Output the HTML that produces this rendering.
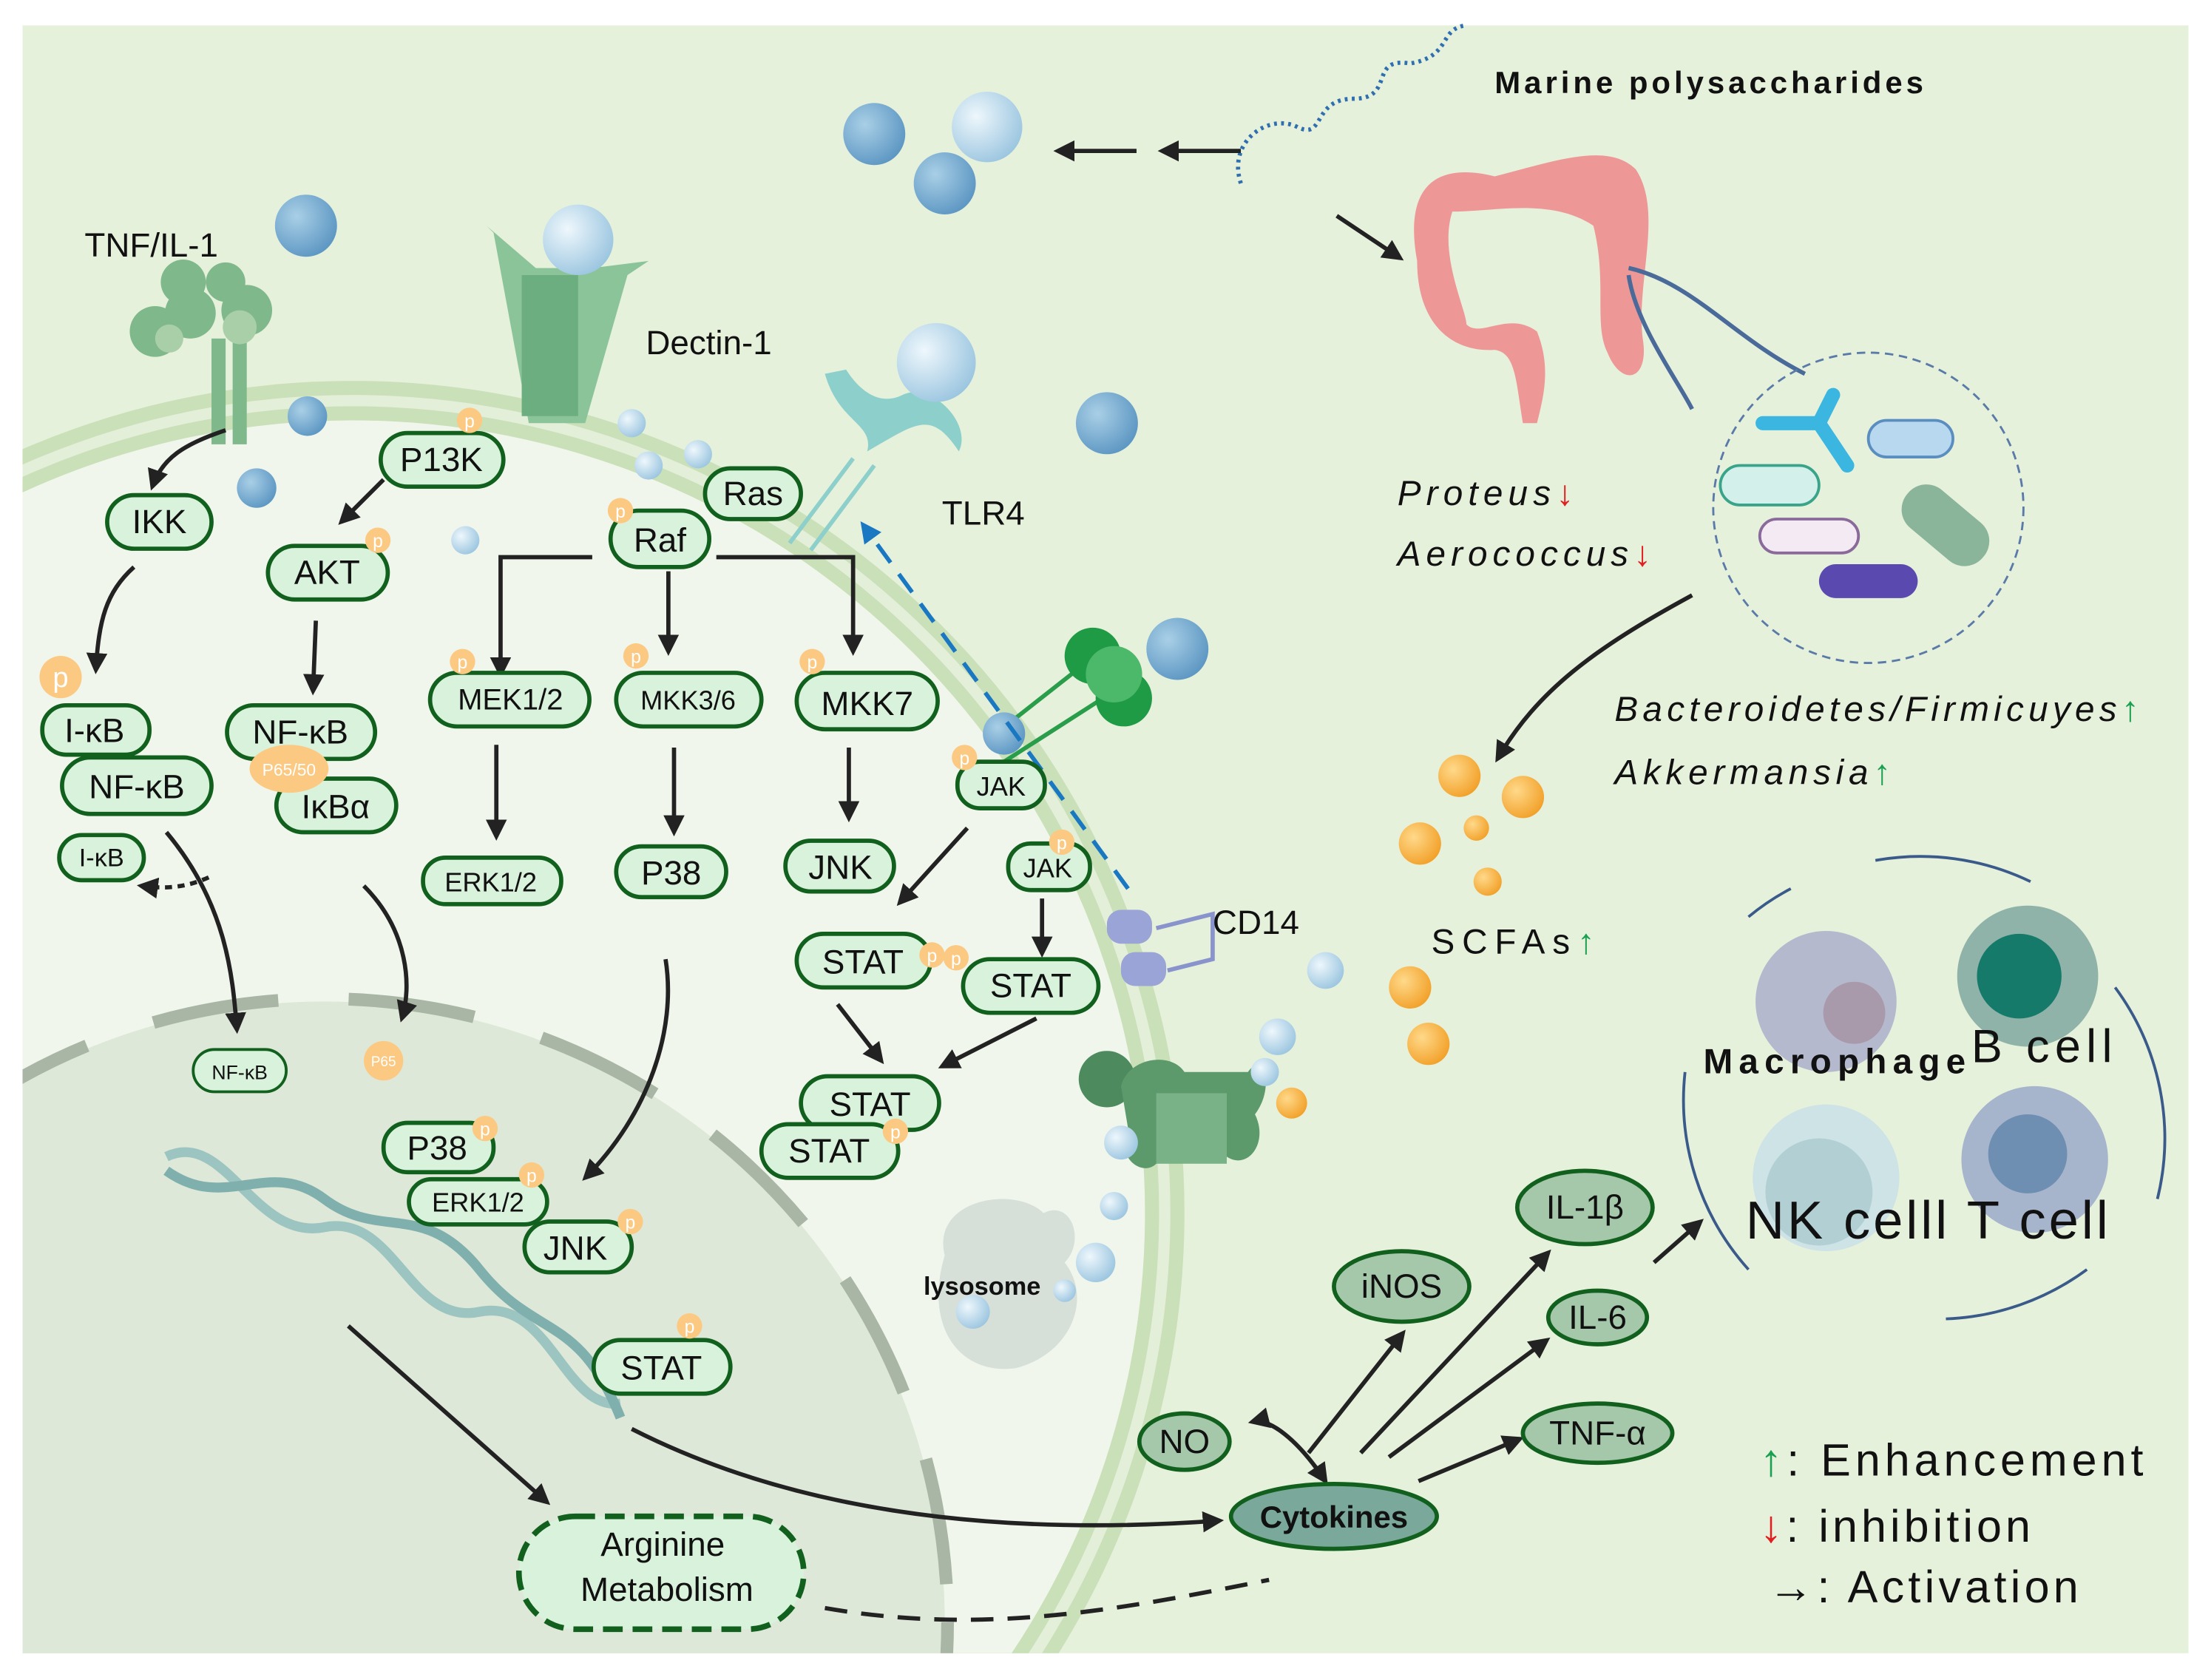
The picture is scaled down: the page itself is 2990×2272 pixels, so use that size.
<!DOCTYPE html>
<html><head><meta charset="utf-8"><style>
html,body{margin:0;padding:0;background:#fff;width:2990px;height:2272px;overflow:hidden}
svg{display:block}
text{font-family:"Liberation Sans",sans-serif}
</style></head><body>
<svg width="2990" height="2272" viewBox="0 0 1568 1191" preserveAspectRatio="none" xmlns="http://www.w3.org/2000/svg">
<defs>
<marker id="a" viewBox="0 0 10 10" refX="8" refY="5" markerWidth="5" markerHeight="5" orient="auto-start-reverse"><path d="M0,0L10,5L0,10Z" fill="#222"/></marker>
<marker id="b" viewBox="0 0 10 10" refX="8" refY="5" markerWidth="5" markerHeight="5" orient="auto"><path d="M0,0L10,5L0,10Z" fill="#1a78c2"/></marker>
<clipPath id="pc"><rect x="16" y="18" width="1536" height="1154"/></clipPath>
<radialGradient id="bs" cx="0.35" cy="0.35" r="0.7"><stop offset="0" stop-color="#a9cfe6"/><stop offset="1" stop-color="#5d97c3"/></radialGradient>
<radialGradient id="ls" cx="0.35" cy="0.35" r="0.7"><stop offset="0" stop-color="#eef7fc"/><stop offset="1" stop-color="#9cc6e0"/></radialGradient>
<radialGradient id="os" cx="0.35" cy="0.35" r="0.7"><stop offset="0" stop-color="#ffd98a"/><stop offset="1" stop-color="#f2a12a"/></radialGradient>
</defs>
<rect x="16" y="18" width="1536" height="1154" fill="#e6f1dc"/>
<g clip-path="url(#pc)">
<circle cx="250" cy="860" r="590" fill="#c9e0b8"/>
<circle cx="250" cy="860" r="580" fill="#e4efd9"/>
<circle cx="250" cy="860" r="572" fill="#c9e0b8"/>
<circle cx="250" cy="860" r="562" fill="#f0f6ec"/>
<circle cx="230" cy="1150" r="440" fill="#dee8d8"/>
<circle cx="230" cy="1150" r="442" fill="none" stroke="#a9b5a5" stroke-width="9" stroke-dasharray="90,50"/>
</g>
<path d="M118,820 C160,800 180,880 230,870 C280,860 290,940 340,930 C390,920 400,1000 440,995" fill="none" stroke="#9cc4c0" stroke-width="7"/>
<path d="M118,830 C160,860 190,820 230,850 C270,880 300,850 340,900 C380,950 410,930 440,1005" fill="none" stroke="#7fb0ad" stroke-width="7"/>
<g fill="#7fb88a">
<rect x="150" y="240" width="10" height="75"/><rect x="165" y="240" width="10" height="75"/>
<circle cx="110" cy="235" r="18"/><circle cx="135" cy="222" r="18"/><circle cx="175" cy="220" r="18"/><circle cx="130" cy="200" r="16"/><circle cx="160" cy="200" r="14"/>
</g>
<circle cx="120" cy="240" r="10" fill="#a9cfa8"/><circle cx="170" cy="232" r="12" fill="#a9cfa8"/>
<path d="M350,165 L375,300 L415,300 L445,195 L460,185 L420,190 L380,190 L345,160Z" fill="#8cc49a"/>
<rect x="370" y="195" width="40" height="100" fill="#6cae80"/>
<circle cx="410" cy="170" r="25" fill="url(#ls)"/>
<path d="M585,265 C595,300 620,300 615,320 C650,300 660,290 680,320 C690,300 660,270 640,280 C620,290 605,270 600,262Z" fill="#8ccfcb"/>
<path d="M560,385 L605,325 M575,390 L620,330" stroke="#8ccfcb" stroke-width="3"/>
<circle cx="664" cy="257" r="28" fill="url(#ls)"/>
<circle cx="785" cy="765" r="20" fill="#4d8a5e"/>
<path d="M795,770 C800,750 830,745 840,760 L885,760 C895,745 905,770 890,790 C900,810 885,830 870,820 L820,825 C810,835 790,820 800,800Z" fill="#5c9a6c"/>
<rect x="820" y="775" width="50" height="50" fill="#7ab287"/>
<g fill="#9aa4d6"><rect x="785" y="645" width="32" height="24" rx="10"/><rect x="795" y="675" width="32" height="24" rx="10"/></g>
<path d="M820,658 L860,648 L860,680 L828,688" fill="none" stroke="#8a94cc" stroke-width="3"/>
<path d="M700,525 L770,470 M712,540 L790,490" stroke="#2a9d4a" stroke-width="3"/>
<circle cx="775" cy="465" r="20" fill="#1f9a45"/><circle cx="797" cy="495" r="20" fill="#1f9a45"/><circle cx="790" cy="478" r="20" fill="#4cb86a"/>
<circle cx="712" cy="520" r="15" fill="url(#bs)"/>
<path d="M670,890 C660,850 720,840 740,860 C760,850 770,880 755,895 C775,920 760,960 720,970 C680,975 655,940 670,890Z" fill="#d6dfd8"/>
<circle cx="690" cy="930" r="12" fill="url(#ls)"/>
<g fill="url(#bs)">
<circle cx="217" cy="160" r="22"/><circle cx="218" cy="295" r="14"/><circle cx="182" cy="346" r="14"/><circle cx="620" cy="95" r="22"/><circle cx="670" cy="130" r="22"/><circle cx="785" cy="300" r="22"/><circle cx="835" cy="460" r="22"/>
</g>
<g fill="url(#ls)">
<circle cx="700" cy="90" r="25"/><circle cx="448" cy="300" r="10"/><circle cx="460" cy="330" r="10"/><circle cx="495" cy="322" r="10"/><circle cx="330" cy="383" r="10"/><circle cx="940" cy="688" r="13"/><circle cx="906" cy="735" r="13"/><circle cx="897" cy="760" r="10"/><circle cx="795" cy="810" r="12"/><circle cx="790" cy="855" r="10"/><circle cx="777" cy="895" r="14"/><circle cx="755" cy="915" r="8"/>
</g>
<g fill="url(#os)">
<circle cx="1035" cy="550" r="15"/><circle cx="1080" cy="565" r="15"/><circle cx="1047" cy="587" r="9"/><circle cx="1007" cy="598" r="15"/><circle cx="1055" cy="625" r="10"/><circle cx="1000" cy="700" r="15"/><circle cx="1013" cy="740" r="15"/><circle cx="916" cy="782" r="11"/>
</g>
<path d="M880,130 C870,100 900,80 920,90 C940,100 930,70 960,70 C990,70 970,40 1000,45 C1030,40 1020,20 1040,18" fill="none" stroke="#2f6fb0" stroke-width="3" stroke-dasharray="2,3"/>
<path d="M1005,185 C995,130 1020,115 1060,125 C1100,115 1140,100 1160,120 C1180,150 1160,200 1165,240 C1170,270 1150,275 1140,250 C1130,230 1140,200 1130,160 C1100,140 1060,150 1030,150 C1020,180 1040,220 1040,230 C1050,240 1070,220 1090,235 C1100,260 1095,280 1090,300 L1080,300 C1075,270 1075,250 1060,248 C1030,250 1005,230 1005,185Z" fill="#ee9797"/>
<path d="M1155,190 C1200,200 1230,240 1280,265 M1155,195 C1160,230 1190,270 1200,290" fill="none" stroke="#4a6a9a" stroke-width="3"/>
<circle cx="1325" cy="360" r="110" fill="none" stroke="#5a7aa8" stroke-width="1.5" stroke-dasharray="6,4"/>
<path d="M1250,300 L1290,300 L1300,280 M1290,300 L1310,330" stroke="#3ab6e0" stroke-width="10" fill="none" stroke-linecap="round"/>
<rect x="1220" y="330" width="70" height="28" rx="14" fill="#d4f0ea" stroke="#3aa48a" stroke-width="2"/>
<rect x="1325" y="298" width="60" height="26" rx="13" fill="#b8d8ef" stroke="#5a8ec0" stroke-width="2"/>
<rect x="1248" y="368" width="70" height="24" rx="12" fill="#f4eaf4" stroke="#8a6a9a" stroke-width="2"/>
<rect x="1345" y="355" width="70" height="35" rx="17" fill="#8ab59a" transform="rotate(40 1380 372)"/>
<rect x="1290" y="400" width="70" height="24" rx="12" fill="#5a4ab0"/>
<path d="M1240,650 A170,170 0 0 1 1270,630 M1330,610 A180,180 0 0 1 1440,625 M1500,700 A180,180 0 0 1 1530,850 M1480,900 A180,180 0 0 1 1380,935 M1240,900 A180,180 0 0 1 1195,760" fill="none" stroke="#3a5a8a" stroke-width="2"/>
<circle cx="1295" cy="710" r="50" fill="#b5b9cd"/><circle cx="1315" cy="718" r="22" fill="#a89aaa"/>
<circle cx="1438" cy="692" r="50" fill="#8fb3a8"/><circle cx="1432" cy="692" r="30" fill="#157a6a"/>
<circle cx="1295" cy="835" r="52" fill="#cde3e6"/><circle cx="1290" cy="845" r="38" fill="#b2d0d3"/>
<circle cx="1443" cy="822" r="52" fill="#a6b5cc"/><circle cx="1438" cy="818" r="28" fill="#6f8fb2"/>
<g stroke="#222" stroke-width="3" fill="none" marker-end="url(#a)">
<path d="M806,107L750,107"/><path d="M880,107L824,107"/><path d="M948,153L993,183"/>
<path d="M1200,422 C1130,460 1090,490 1062,538"/>
<path d="M160,305 C130,315 115,325 108,345"/>
<path d="M95,402 C75,420 70,440 68,475"/>
<path d="M272,340L242,370"/><path d="M224,440L222,490"/>
<path d="M420,395L355,395L355,478"/><path d="M474,405L474,462"/><path d="M508,395L605,395L605,462"/>
<path d="M352,528L352,593"/><path d="M478,530L478,590"/><path d="M602,530L602,580"/>
<path d="M686,587L638,640"/><path d="M739,637L739,676"/>
<path d="M594,712L625,752"/><path d="M735,722L668,756"/>
<path d="M118,590 C160,640 165,690 168,730"/>
<path d="M258,628 C290,660 292,700 285,722"/>
<path d="M472,680 C480,730 460,790 415,835"/>
<path d="M247,940L388,1065"/>
<path d="M448,1013 C560,1070 700,1090 865,1078"/>
<path d="M928,1030L995,945"/><path d="M965,1030L1098,888"/><path d="M985,1033L1097,950"/><path d="M1006,1050L1078,1020"/><path d="M1173,895L1206,866"/>
<path d="M940,1050 C920,1020 900,1005 888,1008" marker-start="url(#a)"/>
</g>
<path d="M148,622 C130,630 115,630 100,628" stroke="#222" stroke-width="3" fill="none" stroke-dasharray="5,4" marker-end="url(#a)"/>
<path d="M585,1140 C700,1160 800,1140 900,1120" stroke="#222" stroke-width="3" fill="none" stroke-dasharray="16,10"/>
<path d="M800,630 L612,372" stroke="#1a78c2" stroke-width="3" fill="none" stroke-dasharray="16,10" marker-end="url(#b)"/>
<g fill="#d9f2dc" stroke="#12601e" stroke-width="3">
<rect x="270" y="307" width="87" height="38" rx="19"/>
<rect x="76" y="351" width="74" height="38" rx="19"/>
<rect x="190" y="387" width="85" height="38" rx="19"/>
<rect x="500" y="332" width="68" height="36" rx="18"/>
<rect x="433" y="362" width="70" height="40" rx="20"/>
<rect x="305" y="477" width="113" height="38" rx="19"/>
<rect x="437" y="477" width="103" height="38" rx="19"/>
<rect x="565" y="477" width="100" height="40" rx="20"/>
<rect x="300" y="608" width="98" height="33" rx="16"/>
<rect x="437" y="600" width="78" height="36" rx="18"/>
<rect x="557" y="596" width="77" height="36" rx="18"/>
<rect x="679" y="540" width="62" height="33" rx="16"/>
<rect x="715" y="598" width="58" height="33" rx="16"/>
<rect x="565" y="662" width="95" height="38" rx="19"/>
<rect x="683" y="680" width="96" height="38" rx="19"/>
<rect x="568" y="763" width="98" height="38" rx="19"/>
<rect x="540" y="797" width="97" height="38" rx="19"/>
<rect x="30" y="500" width="76" height="35" rx="17"/>
<rect x="44" y="537" width="106" height="40" rx="20"/>
<rect x="42" y="592" width="60" height="32" rx="16"/>
<rect x="161" y="500" width="105" height="38" rx="19"/>
<rect x="196" y="552" width="85" height="38" rx="19"/>
<rect x="137" y="744" width="66" height="30" rx="15" stroke-width="2"/>
<rect x="272" y="796" width="78" height="35" rx="17"/>
<rect x="290" y="836" width="98" height="32" rx="16"/>
<rect x="372" y="866" width="76" height="36" rx="18"/>
<rect x="421" y="950" width="97" height="38" rx="19"/>
</g>
<rect x="368" y="1075" width="202" height="80" rx="40" fill="#d9f2dc" stroke="#12601e" stroke-width="4" stroke-dasharray="14,7"/>
<g stroke="#12601e" stroke-width="3">
<ellipse cx="946" cy="1075" rx="73" ry="23" fill="#7aa89a"/>
<ellipse cx="840" cy="1022" rx="32" ry="20" fill="#a5c8aa"/>
<ellipse cx="994" cy="912" rx="48" ry="25" fill="#a5c8aa"/>
<ellipse cx="1124" cy="856" rx="48" ry="26" fill="#a5c8aa"/>
<ellipse cx="1133" cy="934" rx="35" ry="19" fill="#a5c8aa"/>
<ellipse cx="1133" cy="1016" rx="53" ry="21" fill="#a5c8aa"/>
</g>
<g fill="#fcc983">
<circle cx="333" cy="298" r="9"/><circle cx="268" cy="383" r="9"/><circle cx="440" cy="362" r="9"/><circle cx="328" cy="469" r="9"/><circle cx="451" cy="465" r="9"/><circle cx="576" cy="469" r="9"/><circle cx="684" cy="537" r="9"/><circle cx="753" cy="597" r="9"/><circle cx="661" cy="677" r="9"/><circle cx="678" cy="679" r="9"/><circle cx="635" cy="802" r="9"/><circle cx="43" cy="480" r="15"/><circle cx="344" cy="800" r="9"/><circle cx="377" cy="833" r="9"/><circle cx="447" cy="866" r="9"/><circle cx="489" cy="940" r="9"/><circle cx="272" cy="752" r="14"/>
<ellipse cx="205" cy="545" rx="28" ry="17"/>
</g>
<g fill="#fff" font-size="13" text-anchor="middle">
<text x="333" y="303">p</text><text x="268" y="388">p</text><text x="440" y="367">p</text><text x="328" y="474">p</text><text x="451" y="470">p</text><text x="576" y="474">p</text><text x="684" y="542">p</text><text x="753" y="602">p</text><text x="661" y="682">p</text><text x="678" y="684">p</text><text x="635" y="807">p</text><text x="43" y="487" font-size="20">p</text><text x="344" y="805">p</text><text x="377" y="838">p</text><text x="447" y="871">p</text><text x="489" y="945">p</text><text x="272" y="756" font-size="10">P65</text><text x="205" y="550" font-size="12">P65/50</text>
</g>
<g font-size="24" text-anchor="middle" fill="#111">
<text x="313" y="334">P13K</text><text x="113" y="378">IKK</text><text x="232" y="414">AKT</text><text x="534" y="358">Ras</text><text x="468" y="391">Raf</text>
<text x="362" y="503" font-size="21">MEK1/2</text><text x="488" y="503" font-size="19">MKK3/6</text><text x="615" y="507">MKK7</text>
<text x="348" y="632" font-size="19">ERK1/2</text><text x="476" y="627">P38</text><text x="596" y="623">JNK</text>
<text x="710" y="564" font-size="19">JAK</text><text x="743" y="622" font-size="19">JAK</text>
<text x="612" y="690">STAT</text><text x="731" y="707">STAT</text><text x="617" y="791">STAT</text><text x="588" y="824">STAT</text>
<text x="67" y="526">I-κB</text><text x="97" y="566">NF-κB</text><text x="72" y="614" font-size="18">I-κB</text>
<text x="213" y="527">NF-κB</text><text x="238" y="580">IκBα</text><text x="170" y="765" font-size="14">NF-κB</text>
<text x="310" y="822">P38</text><text x="339" y="859" font-size="19">ERK1/2</text><text x="408" y="893">JNK</text><text x="469" y="978">STAT</text>
<text x="470" y="1103">Arginine</text><text x="473" y="1135">Metabolism</text>
<text x="946" y="1083" font-weight="bold" font-size="22">Cytokines</text>
<text x="840" y="1030">NO</text><text x="994" y="920">iNOS</text><text x="1124" y="864">IL-1β</text><text x="1133" y="942">IL-6</text><text x="1133" y="1024">TNF-α</text>
</g>
<g fill="#111">
<text x="60" y="182" font-size="24">TNF/IL-1</text>
<text x="458" y="251" font-size="24">Dectin-1</text>
<text x="668" y="372" font-size="24">TLR4</text>
<text x="860" y="662" font-size="24">CD14</text>
<text x="655" y="918" font-size="18" font-weight="bold">lysosome</text>
<text x="1060" y="66" font-size="22" font-weight="bold" textLength="304">Marine polysaccharides</text>
<text x="991" y="358" font-size="25" font-style="italic" textLength="125">Proteus<tspan fill="#e02020" font-style="normal">↓</tspan></text>
<text x="991" y="401" font-size="25" font-style="italic" textLength="180">Aerococcus<tspan fill="#e02020" font-style="normal">↓</tspan></text>
<text x="1145" y="511" font-size="25" font-style="italic" textLength="372">Bacteroidetes/Firmicuyes<tspan fill="#1aa050" font-style="normal">↑</tspan></text>
<text x="1145" y="556" font-size="25" font-style="italic" textLength="196">Akkermansia<tspan fill="#1aa050" font-style="normal">↑</tspan></text>
<text x="1015" y="676" font-size="25" textLength="116">SCFAs<tspan fill="#1aa050">↑</tspan></text>
<text x="1208" y="761" font-size="25" font-weight="bold" textLength="186">Macrophage</text>
<text x="1398" y="753" font-size="33" textLength="100">B  cell</text>
<text x="1238" y="878" font-size="38" textLength="257">NK celll T cell</text>
<text x="1248" y="1046" font-size="32" textLength="272"><tspan fill="#1aa050">↑</tspan>:  Enhancement</text>
<text x="1248" y="1093" font-size="32" textLength="192"><tspan fill="#e02020">↓</tspan>:  inhibition</text>
<text x="1254" y="1136" font-size="32" textLength="220">→:  Activation</text>
</g>
</svg>
</body></html>
